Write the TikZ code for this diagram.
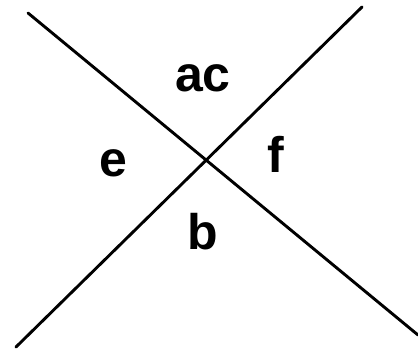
\documentclass[tikz,border=0pt]{standalone}
\usepackage{fontspec}
\setmainfont{Liberation Sans}
\begin{document}
\begin{tikzpicture}[x=1pt,y=-1pt,
  crossline/.style={line width=2.9pt,line cap=round,black},
  lbl/.style={anchor=base,inner sep=0pt,font=\fontsize{50}{50}\selectfont\bfseries}]
\useasboundingbox (0,0) rectangle (418,350);
\coordinate (tl) at (28,13);
\coordinate (br) at (418,335);
\coordinate (tr) at (362,7);
\coordinate (bl) at (16,347);
\draw[crossline] (tl) -- (br);
\draw[crossline] (tr) -- (bl);
\node[lbl] (ac) at (203,92) {ac};
\node[lbl] (e) at (113,177) {e};
\node[lbl] (f) at (276,173) {f};
\node[lbl] (b) at (203,249) {b};
\end{tikzpicture}
\end{document}
